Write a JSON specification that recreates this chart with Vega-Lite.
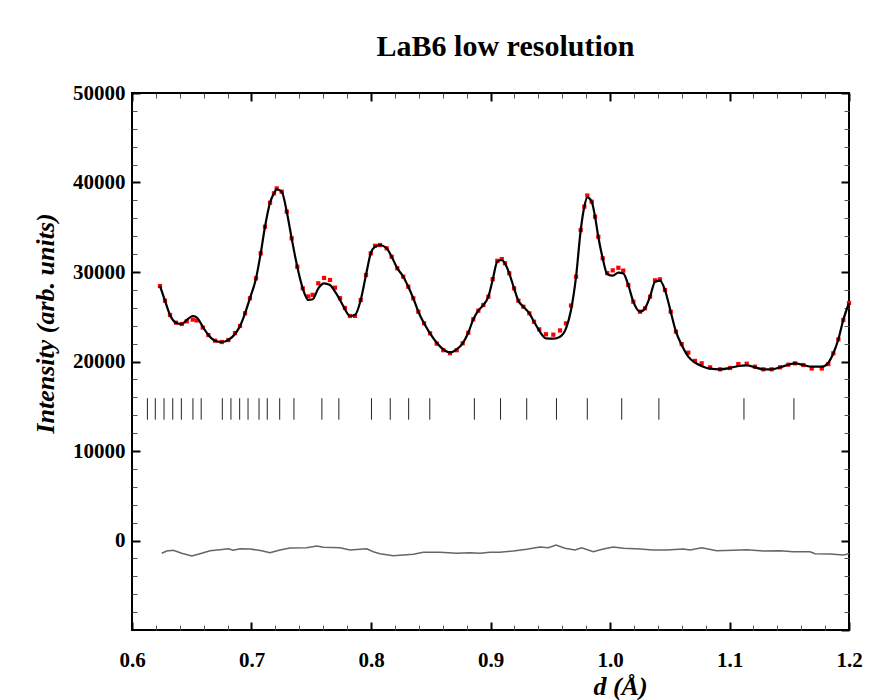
{
  "$schema": "https://vega.github.io/schema/vega-lite/v6.json",
  "width": 717,
  "height": 537,
  "autosize": {"type": "none"},
  "padding": {"left": 132, "top": 93, "right": 46, "bottom": 70},
  "background": "white",
  "title": {"text": "LaB6 low resolution", "font": "Liberation Serif", "fontSize": 30, "fontWeight": "bold", "anchor": "middle", "offset": 20, "dx": 15, "color": "black"},
  "config": {
    "view": {"stroke": "black", "strokeWidth": 2},
    "axis": {"grid": false, "domain": false, "labelFlush": false, "labelFont": "Liberation Serif", "labelFontWeight": "bold", "labelFontSize": 21, "labelColor": "black", "tickColor": "black", "titleFont": "Liberation Serif", "titleFontWeight": "bold", "titleFontStyle": "italic", "titleFontSize": 26, "titleColor": "black"}
  },
  "datasets": {
    "calc": [
      {"d":0.6234,"I":28435},{"d":0.6276,"I":26793},{"d":0.6318,"I":25195},{"d":0.6368,"I":24335},{"d":0.6416,"I":24189},
      {"d":0.6458,"I":24636},{"d":0.6508,"I":25083},{"d":0.6541,"I":24938},{"d":0.6592,"I":23888},{"d":0.6639,"I":22960},
      {"d":0.6695,"I":22324},{"d":0.6751,"I":22178},{"d":0.6806,"I":22402},{"d":0.6862,"I":23072},{"d":0.6904,"I":23966},
      {"d":0.6946,"I":25385},{"d":0.6987,"I":27061},{"d":0.7038,"I":29295},{"d":0.7077,"I":32089},{"d":0.7113,"I":35061},
      {"d":0.7155,"I":37742},{"d":0.7188,"I":38793},{"d":0.7211,"I":39240},{"d":0.7253,"I":38972},{"d":0.7295,"I":36737},
      {"d":0.7336,"I":33765},{"d":0.7383,"I":30592},{"d":0.7429,"I":28178},{"d":0.7475,"I":26871},{"d":0.7512,"I":26949},
      {"d":0.7559,"I":28178},{"d":0.7607,"I":28737},{"d":0.7657,"I":28547},{"d":0.7699,"I":27799},{"d":0.7741,"I":26871},
      {"d":0.7782,"I":25832},{"d":0.7824,"I":25083},{"d":0.7866,"I":25195},{"d":0.7914,"I":26871},{"d":0.7958,"I":29664},
      {"d":0.7998,"I":32089},{"d":0.8034,"I":32826},{"d":0.8075,"I":33016},{"d":0.8131,"I":32647},{"d":0.8173,"I":31709},
      {"d":0.8220,"I":30413},{"d":0.8270,"I":29474},{"d":0.8312,"I":28357},{"d":0.8354,"I":27061},{"d":0.8396,"I":25564},
      {"d":0.8444,"I":24268},{"d":0.8494,"I":23150},{"d":0.8550,"I":22100},{"d":0.8605,"I":21362},{"d":0.8661,"I":21027},
      {"d":0.8717,"I":21362},{"d":0.8767,"I":22033},{"d":0.8814,"I":23217},{"d":0.8856,"I":24714},{"d":0.8898,"I":25676},
      {"d":0.8940,"I":26312},{"d":0.8982,"I":27240},{"d":0.9018,"I":29106},{"d":0.9057,"I":31150},{"d":0.9094,"I":31340},
      {"d":0.9121,"I":30972},{"d":0.9157,"I":29854},{"d":0.9197,"I":28178},{"d":0.9233,"I":26793},{"d":0.9275,"I":26122},
      {"d":0.9325,"I":25385},{"d":0.9364,"I":24446},{"d":0.9408,"I":23441},{"d":0.9464,"I":22592},{"d":0.9526,"I":22547},
      {"d":0.9582,"I":22771},{"d":0.9632,"I":23709},{"d":0.9674,"I":25754},{"d":0.9716,"I":29474},{"d":0.9755,"I":34692},
      {"d":0.9785,"I":37296},{"d":0.9810,"I":38345},{"d":0.9847,"I":37854},{"d":0.9875,"I":36178},{"d":0.9902,"I":33943},
      {"d":0.9939,"I":31530},{"d":0.9977,"I":29776},{"d":1.0023,"I":29586},{"d":1.0070,"I":29921},{"d":1.0111,"I":29854},
      {"d":1.0153,"I":28547},{"d":1.0195,"I":26681},{"d":1.0251,"I":25564},{"d":1.0293,"I":25944},{"d":1.0335,"I":27240},
      {"d":1.0377,"I":28916},{"d":1.0418,"I":29027},{"d":1.0460,"I":27988},{"d":1.0508,"I":25564},{"d":1.0552,"I":23329},
      {"d":1.0600,"I":21843},{"d":1.0655,"I":20536},{"d":1.0711,"I":19866},{"d":1.0767,"I":19497},{"d":1.0837,"I":19195},
      {"d":1.0921,"I":19128},{"d":1.1004,"I":19273},{"d":1.1074,"I":19497},{"d":1.1144,"I":19575},{"d":1.1213,"I":19351},
      {"d":1.1283,"I":19128},{"d":1.1353,"I":19128},{"d":1.1423,"I":19351},{"d":1.1492,"I":19642},{"d":1.1548,"I":19798},
      {"d":1.1618,"I":19608},{"d":1.1688,"I":19419},{"d":1.1772,"I":19419},{"d":1.1827,"I":19866},{"d":1.1869,"I":20916},
      {"d":1.1911,"I":22480},{"d":1.1952,"I":24636},{"d":1.2000,"I":26536}
    ],
    "obs": [
      {"d":0.6234,"I":28435},{"d":0.6276,"I":26793},{"d":0.6318,"I":25195},{"d":0.6368,"I":24335},{"d":0.6416,"I":24189},
      {"d":0.6458,"I":24486},{"d":0.6508,"I":24683},{"d":0.6541,"I":24588},{"d":0.6592,"I":23788},{"d":0.6639,"I":22960},
      {"d":0.6695,"I":22324},{"d":0.6751,"I":22178},{"d":0.6806,"I":22402},{"d":0.6862,"I":23172},{"d":0.6904,"I":23966},
      {"d":0.6946,"I":25385},{"d":0.6987,"I":27061},{"d":0.7038,"I":29295},{"d":0.7077,"I":32089},{"d":0.7113,"I":35061},
      {"d":0.7155,"I":37742},{"d":0.7188,"I":38793},{"d":0.7211,"I":39340},{"d":0.7253,"I":38972},{"d":0.7295,"I":36737},
      {"d":0.7336,"I":33765},{"d":0.7383,"I":30592},{"d":0.7429,"I":28178},{"d":0.7475,"I":27271},{"d":0.7512,"I":27449},
      {"d":0.7559,"I":28738},{"d":0.7607,"I":29337},{"d":0.7657,"I":29107},{"d":0.7699,"I":28249},{"d":0.7741,"I":27071},
      {"d":0.7782,"I":25982},{"d":0.7824,"I":25083},{"d":0.7866,"I":25095},{"d":0.7914,"I":26871},{"d":0.7958,"I":29664},
      {"d":0.7998,"I":32089},{"d":0.8034,"I":32926},{"d":0.8075,"I":33016},{"d":0.8131,"I":32647},{"d":0.8173,"I":31709},
      {"d":0.8220,"I":30413},{"d":0.8270,"I":29474},{"d":0.8312,"I":28357},{"d":0.8354,"I":27061},{"d":0.8396,"I":25564},
      {"d":0.8444,"I":24268},{"d":0.8494,"I":23150},{"d":0.8550,"I":22000},{"d":0.8605,"I":21262},{"d":0.8661,"I":20927},
      {"d":0.8717,"I":21262},{"d":0.8767,"I":22033},{"d":0.8814,"I":23217},{"d":0.8856,"I":24714},{"d":0.8898,"I":25676},
      {"d":0.8940,"I":26312},{"d":0.8982,"I":27240},{"d":0.9018,"I":29206},{"d":0.9057,"I":31250},{"d":0.9094,"I":31440},
      {"d":0.9121,"I":30972},{"d":0.9157,"I":29854},{"d":0.9197,"I":28178},{"d":0.9233,"I":26793},{"d":0.9275,"I":26122},
      {"d":0.9325,"I":25385},{"d":0.9364,"I":24446},{"d":0.9408,"I":23591},{"d":0.9464,"I":23042},{"d":0.9526,"I":22997},
      {"d":0.9582,"I":23471},{"d":0.9632,"I":24259},{"d":0.9674,"I":26254},{"d":0.9716,"I":29474},{"d":0.9755,"I":34692},
      {"d":0.9785,"I":37296},{"d":0.9810,"I":38545},{"d":0.9847,"I":37854},{"d":0.9875,"I":36178},{"d":0.9902,"I":33943},
      {"d":0.9939,"I":31530},{"d":0.9977,"I":29876},{"d":1.0023,"I":30186},{"d":1.0070,"I":30471},{"d":1.0111,"I":30154},
      {"d":1.0153,"I":28547},{"d":1.0195,"I":26681},{"d":1.0251,"I":25564},{"d":1.0293,"I":25944},{"d":1.0335,"I":27240},
      {"d":1.0377,"I":29066},{"d":1.0418,"I":29177},{"d":1.0460,"I":27988},{"d":1.0508,"I":25564},{"d":1.0552,"I":23329},
      {"d":1.0600,"I":21943},{"d":1.0655,"I":20986},{"d":1.0711,"I":20066},{"d":1.0767,"I":19797},{"d":1.0837,"I":19345},
      {"d":1.0921,"I":19128},{"d":1.1004,"I":19273},{"d":1.1074,"I":19717},{"d":1.1144,"I":19755},{"d":1.1213,"I":19421},
      {"d":1.1283,"I":19128},{"d":1.1353,"I":19128},{"d":1.1423,"I":19351},{"d":1.1492,"I":19642},{"d":1.1548,"I":19798},
      {"d":1.1618,"I":19608},{"d":1.1688,"I":19219},{"d":1.1772,"I":19219},{"d":1.1827,"I":19716},{"d":1.1869,"I":20916},
      {"d":1.1911,"I":22480},{"d":1.1952,"I":24636},{"d":1.2000,"I":26536}
    ],
    "diff": [
      {"d":0.6249,"I":-1430},{"d":0.6290,"I":-1173},{"d":0.6346,"I":-1095},{"d":0.6416,"I":-1430},{"d":0.6500,"I":-1732},
      {"d":0.6569,"I":-1475},{"d":0.6653,"I":-1140},{"d":0.6736,"I":-1028},{"d":0.6806,"I":-916},{"d":0.6848,"I":-1095},
      {"d":0.6904,"I":-916},{"d":0.6987,"I":-950},{"d":0.7085,"I":-1140},{"d":0.7155,"I":-1363},{"d":0.7238,"I":-1062},
      {"d":0.7322,"I":-838},{"d":0.7462,"I":-805},{"d":0.7546,"I":-615},{"d":0.7601,"I":-760},{"d":0.7741,"I":-805},
      {"d":0.7824,"I":-1062},{"d":0.7908,"I":-983},{"d":0.7964,"I":-916},{"d":0.8019,"I":-1251},{"d":0.8075,"I":-1475},
      {"d":0.8187,"I":-1698},{"d":0.8270,"I":-1620},{"d":0.8354,"I":-1542},{"d":0.8438,"I":-1318},{"d":0.8577,"I":-1318},
      {"d":0.8717,"I":-1430},{"d":0.8828,"I":-1363},{"d":0.8912,"I":-1430},{"d":0.8996,"I":-1318},{"d":0.9079,"I":-1300},
      {"d":0.9191,"I":-1173},{"d":0.9303,"I":-983},{"d":0.9414,"I":-726},{"d":0.9484,"I":-805},{"d":0.9548,"I":-503},
      {"d":0.9623,"I":-872},{"d":0.9707,"I":-1062},{"d":0.9763,"I":-805},{"d":0.9860,"I":-1251},{"d":0.9944,"I":-950},
      {"d":1.0028,"I":-726},{"d":1.0111,"I":-872},{"d":1.0251,"I":-950},{"d":1.0362,"I":-1062},{"d":1.0475,"I":-1062},
      {"d":1.0613,"I":-950},{"d":1.0670,"I":-1062},{"d":1.0767,"I":-805},{"d":1.0893,"I":-1140},{"d":1.1032,"I":-1095},
      {"d":1.1144,"I":-1028},{"d":1.1283,"I":-1173},{"d":1.1423,"I":-1140},{"d":1.1534,"I":-1251},{"d":1.1674,"I":-1251},
      {"d":1.1716,"I":-1475},{"d":1.1841,"I":-1509},{"d":1.1952,"I":-1620},{"d":1.2000,"I":-1475}
    ],
    "refl": [
      {"d":0.6129},{"d":0.6195},{"d":0.6268},{"d":0.6341},{"d":0.6413},{"d":0.6510},{"d":0.6579},
      {"d":0.6756},{"d":0.6828},{"d":0.6901},{"d":0.6971},{"d":0.7063},{"d":0.7132},{"d":0.7236},{"d":0.7355},
      {"d":0.7589},{"d":0.7731},{"d":0.8004},{"d":0.8161},{"d":0.8315},{"d":0.8492},{"d":0.8865},{"d":0.9084},
      {"d":0.9303},{"d":0.9552},{"d":0.9810},{"d":1.0098},{"d":1.0409},{"d":1.1121},{"d":1.1539}
    ]
  },
  "resolve": {"axis": {"x": "independent", "y": "independent"}},
  "layer": [
    {
      "data": {"name": "refl"},
      "mark": {"type": "rule", "stroke": "#222", "strokeWidth": 1},
      "encoding": {
        "x": {"field": "d", "type": "quantitative", "scale": {"domain": [0.6, 1.2], "nice": false, "zero": false},
              "axis": {"orient": "bottom", "values": [0.6,0.7,0.8,0.9,1.0,1.1,1.2], "format": ".1f", "tickSize": -8, "tickWidth": 2, "labelPadding": 27, "labelBaseline": "top", "title": "d (Å)", "titleX": 488, "titleY": 56, "titleAlign": "center", "titleBaseline": "middle"}},
        "y": {"datum": 13500, "type": "quantitative", "scale": {"domain": [-10000, 50000], "nice": false, "zero": false},
              "axis": {"orient": "left", "values": [0,10000,20000,30000,40000,50000], "format": "d", "tickSize": -8, "tickWidth": 2, "labelPadding": 15, "title": "Intensity (arb. units)", "titleX": -87, "titleY": 230, "titleAngle": -90, "titleAlign": "center", "titleBaseline": "middle"}},
        "y2": {"datum": 15900}
      }
    },
    {
      "data": {"name": "diff"},
      "mark": {"type": "line", "stroke": "#666666", "strokeWidth": 1.5},
      "encoding": {
        "x": {"field": "d", "type": "quantitative",
              "axis": {"orient": "bottom", "values": [0.62,0.64,0.66,0.68,0.72,0.74,0.76,0.78,0.82,0.84,0.86,0.88,0.92,0.94,0.96,0.98,1.02,1.04,1.06,1.08,1.12,1.14,1.16,1.18], "tickSize": -5, "tickWidth": 1, "tickColor": "#555", "labels": false, "title": null}},
        "y": {"field": "I", "type": "quantitative",
              "axis": {"orient": "left", "values": [-8000,-6000,-4000,-2000,2000,4000,6000,8000,12000,14000,16000,18000,22000,24000,26000,28000,32000,34000,36000,38000,42000,44000,46000,48000], "tickSize": -5, "tickWidth": 1, "tickColor": "#555", "labels": false, "title": null}}
      }
    },
    {
      "data": {"name": "obs"},
      "mark": {"type": "square", "color": "#ff0000", "size": 18, "opacity": 1},
      "encoding": {
        "x": {"field": "d", "type": "quantitative",
              "axis": {"orient": "top", "values": [0.6,0.7,0.8,0.9,1.0,1.1,1.2], "tickSize": -8, "tickWidth": 2, "labels": false, "title": null}},
        "y": {"field": "I", "type": "quantitative",
              "axis": {"orient": "right", "values": [-10000,0,10000,20000,30000,40000,50000], "tickSize": -8, "tickWidth": 2, "labels": false, "title": null}}
      }
    },
    {
      "data": {"name": "calc"},
      "mark": {"type": "line", "stroke": "black", "strokeWidth": 2.2, "interpolate": "monotone"},
      "encoding": {
        "x": {"field": "d", "type": "quantitative",
              "axis": {"orient": "top", "values": [0.62,0.64,0.66,0.68,0.72,0.74,0.76,0.78,0.82,0.84,0.86,0.88,0.92,0.94,0.96,0.98,1.02,1.04,1.06,1.08,1.12,1.14,1.16,1.18], "tickSize": -5, "tickWidth": 1, "tickColor": "#555", "labels": false, "title": null}},
        "y": {"field": "I", "type": "quantitative",
              "axis": {"orient": "right", "values": [-8000,-6000,-4000,-2000,2000,4000,6000,8000,12000,14000,16000,18000,22000,24000,26000,28000,32000,34000,36000,38000,42000,44000,46000,48000], "tickSize": -5, "tickWidth": 1, "tickColor": "#555", "labels": false, "title": null}}
      }
    }
  ]
}
